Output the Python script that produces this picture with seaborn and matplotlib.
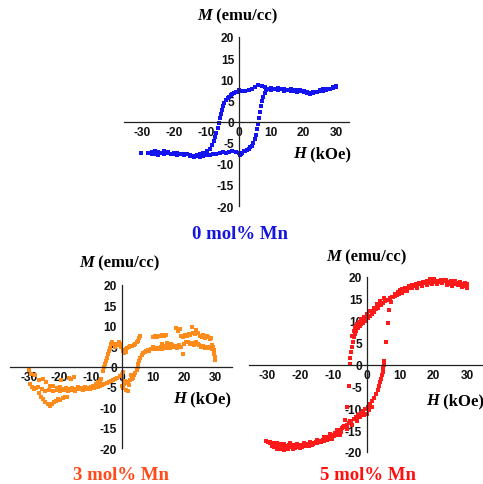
import matplotlib
matplotlib.use("Agg")
import matplotlib.pyplot as plt
import seaborn as sns
import pandas as pd

# ---------------- data ----------------
# Panel 1: 0 mol% Mn (descending and ascending branches)
h0_down = [30, 29, 28, 27, 26, 25, 24, 23, 22, 21, 20, 19, 18, 17, 16, 15, 14, 13, 12, 11,
           10, 9, 8, 7, 6, 5, 4, 3, 2, 1, 0, -0.5, -1, -1.5, -2, -2.5, -3, -3.5, -4, -4.5,
           -5, -5.3, -5.6, -6, -6.3, -6.6, -7, -7.4, -7.8, -8.2, -9, -10, -11, -12, -13, -14,
           -15, -16, -17, -18, -19, -20, -21, -22, -23, -24, -25, -26, -27, -28, -30.4]
m0_down = [8.2, 8.0, 7.7, 7.4, 7.6, 7.2, 7.0, 6.8, 6.7, 7.0, 7.2, 7.4, 7.5, 7.3, 7.6, 7.5, 7.8, 7.6, 7.9, 7.7,
           8.0, 7.8, 8.1, 8.3, 8.6, 8.2, 7.8, 7.4, 7.2, 7.3, 7.4, 7.1, 6.9, 6.7, 6.5, 6.2, 5.9, 5.5, 5.0, 4.4,
           3.6, 2.8, 1.8, 0.8, -0.4, -1.6, -2.8, -3.6, -4.6, -5.5, -6.4, -7.0, -7.4, -7.7, -7.9, -8.1,
           -8.0, -7.8, -7.6, -7.8, -7.5, -7.4, -7.6, -7.2, -7.1, -7.4, -7.2, -7.0, -7.3, -7.5, -7.5]
h0_up = [-27, -26, -25, -24, -23, -22, -21, -20, -19, -18, -17, -16, -15, -14, -13, -12, -11, -10, -9, -8,
         -7, -6, -5, -4, -3, -2, -1, 0, 0.3, 0.6, 1, 1.5, 2, 2.5, 3, 3.5, 4, 4.5, 5, 5.3,
         5.6, 5.9, 6.2, 6.5, 6.8, 7.1, 7.5, 7.9, 8.5, 9, 10, 11, 12, 13, 14, 15, 16, 17, 18, 19,
         20, 21, 22, 23, 24, 25, 26, 27, 28, 29, 30]
m0_up = [-7.8, -7.6, -7.9, -7.5, -7.7, -7.4, -7.8, -7.6, -7.9, -7.7, -8.0, -7.8, -8.2, -8.3, -8.1, -8.4, -8.2, -8.0, -7.9, -7.7,
         -7.6, -7.4, -7.3, -7.4, -7.2, -7.0, -7.2, -7.5, -8.0, -7.8, -7.4, -7.1, -6.9, -6.7, -6.4, -6.1, -5.7, -5.1, -4.2, -3.1,
         -1.8, -0.6, 0.8, 2.2, 3.6, 4.8, 5.9, 6.8, 7.4, 7.7, 7.5, 7.8, 7.4, 7.6, 7.3, 7.5, 7.2, 7.4, 7.1, 7.3,
         6.9, 6.7, 6.5, 6.9, 7.1, 7.4, 7.3, 7.6, 7.8, 8.1, 8.3]

# Panel 2: 3 mol% Mn (noisy loop)
h3 = [10.0, 10.6, 11.2, 11.8, 12.4, 13.0, 13.6, 14.2, 17.6, 18.1, 18.6, 19.2, 19.8, 20.3, 20.9, 21.5, 22.0, 22.5,
      23.0, 23.6, 24.0, 24.6, 25.2, 25.8, 26.3, 26.8, 27.3, 27.8, 28.3, 28.7, 29.0, 29.3, 29.6, 29.8, 30.0, 30.1,
      5.6, 6.0, 6.4, 6.9, 7.4, 7.9, 8.4, 8.9, 9.5, 10.1, 10.7, 11.3, 11.9, 12.5, 13.1, 13.7, 14.3, 14.9, 15.5,
      16.1, 16.7, 17.3, 17.9, 18.5, 19.1, 19.6, 20.2, 20.8, 21.4, 22.0, 22.6, 23.2, 23.8, 24.4, 25.0, 25.6, 26.2,
      26.8, 27.4, 28.0, 28.6, 29.2, 29.7, 12.8, 14.6, 15.8,
      5.8, 5.5, 5.2, 4.8, 4.3, 3.8, 3.3, 2.8, 2.3, 1.8, 1.3, 0.8, 0.3, 0.6, 1.2, -0.2, -0.6, -1.0, -1.4, -1.8,
      -2.3, -2.8, -3.2, -3.6, -3.9, -4.2, -4.5, -4.8, -5.1, -5.4, -5.7, -6.0,
      -6.8, -7.5, -8.4, -9.2, -10.0, -11.0, -12.0, -13.0, -14.0, -15.0, -16.0, -17.0, -18.0, -19.0, -20.0,
      -21.0, -22.0, -23.2, -24.3, -25.4, -26.5, -28.0, -29.2, -30.0, -17.0, -16.2, -15.5, -19.5,
      -29.7, -29.0, -28.3, -27.6, -26.8, -26.0, -25.3, -24.6, -23.9, -23.2, -22.6, -21.9, -21.2, -20.5, -19.8,
      -19.0, -18.3, -17.6,
      -27.0, -25.8, -24.6, -23.4, -22.2, -21.0, -19.8, -18.6, -17.4, -16.2, -15.0, -13.8, -12.6, -11.4, -10.2, -9.0,
      -7.7, -7.0, -6.3, -5.6, -4.9, -4.2, -3.5, -2.8, -2.1, -1.4, -0.7, 0.0, 0.4, -7.1,
      0.0, 0.4, 0.8, 1.2, 1.6, 2.0, 2.4, 2.8, 3.2, 3.6, 4.0, 4.4, 4.8, 5.1, 5.3, 2.0, 1.0, 3.0]
m3 = [7.2, 7.5, 7.3, 7.6, 7.4, 7.7, 7.5, 7.8, 9.4, 8.7, 9.1, 7.6, 7.3, 7.8, 7.5, 8.0, 7.7, 9.6,
      8.1, 7.9, 9.0, 8.3, 7.6, 7.3, 7.8, 7.0, 7.4, 7.2, 6.8, 7.1, 5.2, 4.8, 4.0, 3.2, 2.3, 1.5,
      1.4, 2.2, 2.8, 3.2, 3.6, 3.9, 4.1, 3.8, 4.4, 4.7, 4.2, 4.6, 4.4, 4.9, 4.4, 5.0, 4.6, 4.9, 4.5,
      5.2, 4.8, 5.0, 4.6, 5.3, 4.8, 3.1, 5.6, 5.9, 6.0, 5.4, 5.7, 5.2, 5.9, 5.5, 5.2, 4.8, 5.0,
      4.6, 4.9, 4.5, 4.8, 4.3, 3.0, 5.6, 5.8, 5.5,
      7.6, 7.0, 6.3, 5.9, 5.6, 5.3, 5.0, 5.1, 4.7, 4.5, 4.2, 4.0, 3.7, 3.2, 3.6, 4.8, 5.4, 5.9, 5.2, 5.6,
      4.9, 5.4, 6.0, 5.4, 4.6, 3.8, 3.0, 2.2, 1.4, 0.6, -0.2, -1.0,
      -3.1, -3.7, -4.3, -4.8, -5.0, -5.2, -5.0, -5.3, -5.1, -5.4, -5.2, -5.5, -5.2, -5.4, -5.1,
      -5.3, -4.9, -4.7, -3.9, -3.1, -3.4, -2.2, -1.8, -0.8, -2.8, -3.0, -2.6, -3.2,
      -4.3, -5.1, -5.6, -5.3, -6.5, -7.5, -8.0, -8.6, -9.2, -9.6, -9.2, -8.8, -8.4, -8.0, -8.3,
      -7.8, -7.5, -7.6,
      -5.0, -5.6, -5.9, -5.7, -6.1, -5.8, -6.0, -5.7, -6.1, -5.8, -5.9, -5.6, -5.8, -5.5, -5.6, -5.3,
      -5.1, -4.9, -4.6, -4.3, -4.0, -3.8, -3.6, -3.3, -3.0, -2.8, -2.4, -2.0, -1.4, -3.5,
      -4.7, -5.3, -4.4, -5.8, -4.1, -3.8, -4.6, -3.4, -3.0, -2.7, -2.2, -1.6, -0.9, -0.2, 0.5, -6.0, -3.6, -2.2]

# Panel 3: 5 mol% Mn
h5_down = [30, 29.3, 28.6, 27.9, 27.2, 26.5, 25.8, 25.1, 24.4, 23.7, 23.0, 22.3, 21.6, 20.9, 20.2, 19.5,
           18.8, 18.1, 17.4, 16.7, 16.0, 15.3, 14.6, 13.9, 13.2, 12.5, 11.8, 11.1, 10.4, 9.7, 9.0, 8.3,
           7.6, 6.9, 6.2, 5.5, 4.8, 4.1, 3.4, 2.7, 2.0, 1.4, 0.8, 0.3, -0.2, -0.7, -1.2, -1.7, -2.2,
           -2.7, -3.2, -3.6, -4.0, -4.3, -4.6, -4.8, -5.0, -5.2,
           -5.5, -6.0, -6.6, -7.2, -7.9,
           -8.6, -9.3, -10.0, -10.7, -11.4, -12.1, -12.8, -13.5, -14.2, -14.9, -15.6, -16.3, -17.0, -17.7,
           -18.4, -19.1, -19.8, -20.5, -21.2, -21.9, -22.6, -23.3, -24.0, -24.7, -25.4, -26.1, -26.8,
           -27.5, -28.2, -28.9, -29.6, -30.3]
m5_down = [18.4, 18.7, 18.3, 18.8, 18.5, 19.0, 18.6, 19.1, 18.8, 19.3, 19.0, 19.4, 18.9, 19.2, 19.5, 19.0,
           18.7, 19.1, 18.6, 18.8, 18.3, 18.5, 17.9, 18.1, 17.6, 17.4, 17.0, 16.8, 16.6, 16.2, 16.0, 15.7,
           15.5, 15.1, 14.8, 14.5, 14.0, 13.6, 13.0, 12.6, 12.0, 11.5, 11.0, 10.6, 10.3, 9.9, 9.6, 9.2, 8.8,
           8.3, 7.7, 7.0, 6.2, 5.2, 4.0, 2.8, 1.4, 0.2,
           -5.0, -9.8, -12.6, -14.2, -15.4,
           -15.8, -16.0, -16.4, -16.6, -17.0, -17.2, -17.5, -17.4, -17.8, -18.0, -17.9, -18.2, -18.4, -18.1,
           -18.5, -18.3, -18.6, -18.4, -18.8, -18.5, -18.7, -18.3, -18.6, -18.9, -18.5, -18.2, -18.4,
           -18.0, -18.2, -17.9, -17.6, -17.4]
h5_up = [-29.2, -28.5, -27.8, -27.1, -26.4, -25.7, -25.0, -24.3, -23.6, -22.9, -22.2, -21.5, -20.8, -20.1,
         -19.4, -18.7, -18.0, -17.3, -16.6, -15.9, -15.2, -14.5, -13.8, -13.1, -12.4, -11.7, -11.0, -10.3,
         -9.6, -8.9, -8.2, -7.5, -6.8, -6.1, -5.4, -4.7, -4.0, -3.3, -2.6, -1.9, -1.2, -0.5, 0.2, 0.9, 1.6,
         2.2, 2.8, 3.3, 3.7, 4.0, 4.3, 4.5, 4.7, 4.9, 5.0, 5.1,
         -2.0, -1.0, 0.0, 0.7, 1.5, -3.0, -4.5, -6.0, -8.0, -10.5,
         5.7, 6.2, 6.7, 7.2, 7.8,
         8.5, 9.2, 9.9, 10.6, 11.3, 12.0, 12.7, 13.4, 14.1, 14.8, 15.5, 16.2, 16.9, 17.6, 18.3, 19.0, 19.7,
         20.4, 21.1, 21.8, 22.5, 23.2, 23.9, 24.6, 25.3, 26.0, 26.7, 27.4, 28.1, 28.8, 29.5, 30.1]
m5_up = [-18.0, -18.6, -18.8, -19.2, -18.9, -19.4, -19.6, -19.1, -19.3, -18.9, -19.2, -19.0, -18.7, -19.1,
         -18.8, -18.6, -18.4, -18.7, -18.3, -18.0, -17.8, -17.5, -17.7, -17.2, -16.9, -16.6, -16.4, -16.0,
         -15.7, -15.3, -14.9, -14.6, -14.2, -13.8, -13.4, -12.9, -12.5, -12.0, -11.5, -11.0, -10.6, -10.1, -9.7,
         -9.0, -8.4, -7.6, -6.8, -5.9, -5.0, -4.1, -3.2, -2.4, -1.6, -0.8, 0.0, 0.7,
         -12.0, -11.6, -11.2, -10.5, -9.8, -13.0, -13.8, -14.8, -16.0, -17.0,
         5.1, 9.4, 12.4, 14.3, 15.5,
         16.2, 16.6, 17.0, 17.3, 17.6, 17.5, 17.9, 18.2, 18.0, 18.4, 18.6, 18.3, 18.7, 18.9, 19.2, 19.5, 19.1,
         18.8, 18.6, 19.0, 18.7, 19.3, 18.9, 18.5, 18.8, 18.4, 18.7, 18.2, 18.5, 17.9, 18.2, 17.8]
# extra scattered readings that thicken the 5 mol% bands
h5_extra = [9.0, 10.5, 12.0, 13.5, 15.0, 16.5, 18.0, 19.5, 21.0, 22.5, 24.0, 25.5, 27.0, 28.5, 30.0,
            -4.5, -4.0, -3.5, -3.0, -2.5, -1.8, -1.0, 0.0, 1.0, 2.0, 3.0, 4.0, 5.0,
            -29.0, -27.0, -25.0, -23.0, -21.0, -19.0, -17.0, -15.0, -13.0, -11.0, -9.0, -7.0, -5.0]
m5_extra = [15.8, 16.3, 16.9, 17.4, 17.6, 18.0, 18.2, 18.5, 18.3, 18.6, 18.2, 18.0, 18.3, 17.8, 17.6,
            6.5, 7.6, 8.5, 9.2, 9.8, 10.4, 10.9, 11.6, 12.2, 12.9, 13.8, 14.5, 15.2,
            -17.6, -18.0, -18.2, -18.0, -18.2, -17.9, -17.6, -17.2, -16.6, -15.9, -15.0, -14.0, -13.0]

x_ticks = [-30, -20, -10, 0, 10, 20, 30]
x_minor = [-25, -15, -5, 5, 15, 25]
y_ticks = [-20, -15, -10, -5, 0, 5, 10, 15, 20]
titles = ["0 mol% Mn", "3 mol% Mn", "5 mol% Mn"]

# ---------------- style ----------------
sns.set_theme(style="white")
plt.rcParams["font.family"] = ["Liberation Sans", "DejaVu Sans"]
plt.rcParams["font.weight"] = "bold"

W, H = 483, 485
fig = plt.figure(figsize=(W / 100, H / 100), dpi=100)


def px_axes(left, top, right, bottom):
    return fig.add_axes([left / W, 1 - bottom / H, (right - left) / W, (bottom - top) / H])


def style_axes(ax, xlim):
    ax.set_xlim(*xlim)
    ax.set_ylim(-20, 20)
    for s in ["top", "right"]:
        ax.spines[s].set_visible(False)
    for s in ["left", "bottom"]:
        ax.spines[s].set_position(("data", 0))
        ax.spines[s].set_color("#222222")
        ax.spines[s].set_linewidth(0.9)
    ax.set_xticks(x_ticks)
    ax.set_xticks(x_minor, minor=True)
    ax.set_yticks(y_ticks)
    ax.set_xticklabels([str(v) for v in x_ticks], fontweight="bold", fontsize=8.6)
    ax.set_yticklabels([str(v) for v in y_ticks], fontweight="bold", fontsize=8.6)
    ax.tick_params(axis="both", which="both", direction="out", length=2.5, width=0.8,
                   color="#222222", pad=1, labelcolor="#111111")
    ax.set_xlabel("")
    ax.set_ylabel("")
    ax.patch.set_alpha(0)


def axis_label(ax, x, y, ital, rest, size=12):
    t1 = fig.text(x / W, 1 - y / H, ital, fontsize=size, fontweight="bold", fontstyle="italic",
                  family="Liberation Serif", ha="left", va="baseline", color="black")
    ax.annotate(rest, xy=(1, 0), xycoords=t1, ha="left", va="bottom", fontsize=size,
                fontweight="bold", family="Liberation Serif", color="black",
                annotation_clip=False)


def scatter(ax, h, m, color, size=10):
    df = pd.DataFrame({"H": h, "M": m})
    sns.scatterplot(data=df, x="H", y="M", ax=ax, color=color, marker="s", s=size,
                    linewidth=0, legend=False, clip_on=False)


# Panel 1
ax1 = px_axes(124, 38, 349, 207)
scatter(ax1, h0_down + h0_up, m0_down + m0_up, "#1414F0", 11)
style_axes(ax1, (-35.5, 34.0))
axis_label(ax1, 197, 20, "M", " (emu/cc)")
axis_label(ax1, 293, 158, "H", " (kOe)")
fig.text(240 / W, 1 - 239 / H, titles[0], fontsize=13.5, fontweight="bold",
         family="Liberation Serif", color="#1515E0", ha="center", va="baseline")

# Panel 2
ax2 = px_axes(10, 286, 232, 449)
scatter(ax2, h3, m3, "#FF8C1A", 11)
style_axes(ax2, (-36.0, 35.5))
axis_label(ax2, 79, 267, "M", " (emu/cc)")
axis_label(ax2, 173, 403, "H", " (kOe)")
fig.text(121 / W, 1 - 480 / H, titles[1], fontsize=13.5, fontweight="bold",
         family="Liberation Serif", color="#FF4A1A", ha="center", va="baseline")

# Panel 3
ax3 = px_axes(249, 278, 483, 453)
scatter(ax3, h5_down + h5_up + h5_extra, m5_down + m5_up + m5_extra, "#FF1A1A", 11)
style_axes(ax3, (-35.4, 34.8))
axis_label(ax3, 326, 261, "M", " (emu/cc)")
axis_label(ax3, 426, 405, "H", " (kOe)")
fig.text(368 / W, 1 - 480 / H, titles[2], fontsize=13.5, fontweight="bold",
         family="Liberation Serif", color="#FF1010", ha="center", va="baseline")

fig.savefig("out.png", dpi=100, facecolor="white")
